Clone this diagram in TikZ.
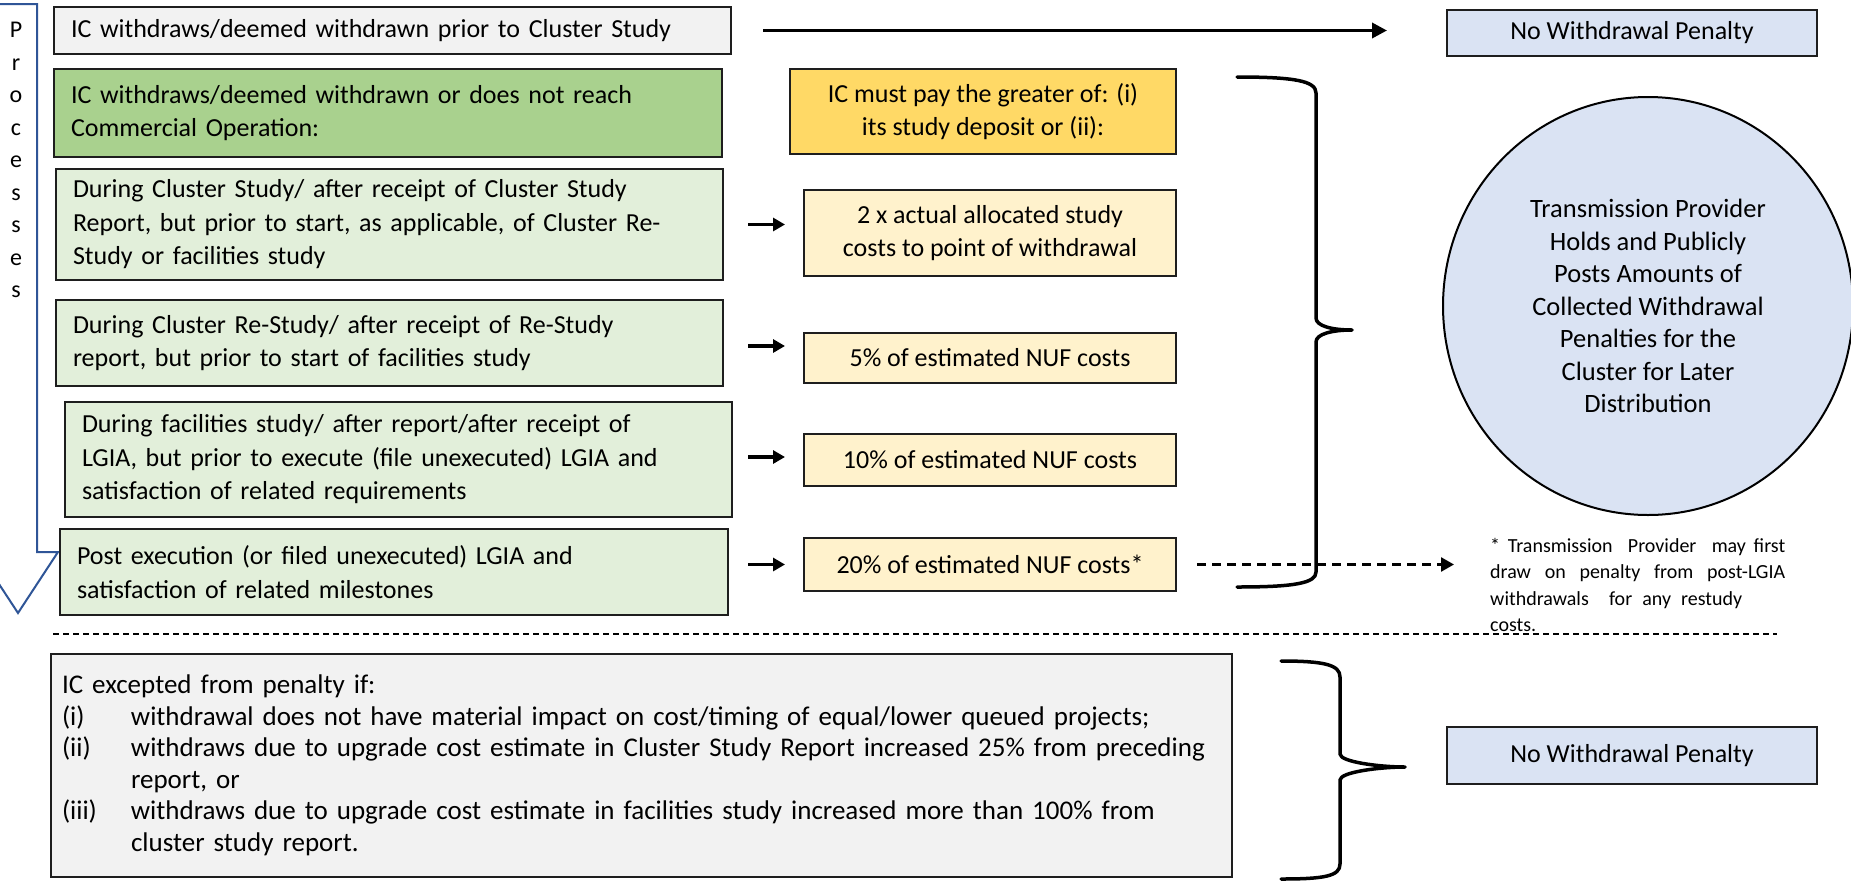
\documentclass[tikz,border=0pt]{standalone}
\usepackage{fontspec}
\setmainfont{Carlito}
\usetikzlibrary{arrows.meta,shapes.geometric}
\definecolor{gbox}{HTML}{F2F2F2}
\definecolor{dgreen}{HTML}{A9D18E}
\definecolor{lgreen}{HTML}{E2EFDA}
\definecolor{gold}{HTML}{FFD966}
\definecolor{lyellow}{HTML}{FFF2CC}
\definecolor{lblue}{HTML}{DAE3F3}
\definecolor{pblue}{HTML}{2F5597}
\definecolor{edge}{HTML}{1E1E1E}
\begin{document}
\begin{tikzpicture}[x=1pt,y=-1pt,
  lbox/.style={draw=edge, line width=2pt, anchor=north west, inner xsep=17pt, inner ysep=0pt,
    align=left, font=\fontsize{26}{33.5}\selectfont},
  cbox/.style={draw=edge, line width=2pt, anchor=north west, inner sep=0pt,
    align=center, font=\fontsize{26}{33.5}\selectfont},
  res/.style={cbox, fill=lyellow, minimum width=372pt},
  nwp/.style={cbox, fill=lblue, minimum width=370pt},
  bigarrow/.style={line width=3.5pt, -{Triangle[length=15pt,width=15pt]}},
  smallarrow/.style={line width=3.5pt, -{Triangle[length=12pt,width=13pt]}},
  dasharrow/.style={line width=2.5pt, dash pattern=on 9pt off 6pt, -{Triangle[length=13pt,width=14pt]}},
  brace/.style={line width=3.5pt, line cap=round, line join=round},
]
\useasboundingbox (0,0) rectangle (1851,881);
\clip (0,0) rectangle (1851,881);
\fill[white] (0,0) rectangle (1851,881);

% Process arrow
\draw[pblue, line width=2pt, fill=white]
  (-1,4) -- (37,4) -- (37,552) -- (58,552) -- (18,613) -- (-22,552) -- (-1,552) -- cycle;
\node[anchor=north, inner sep=0pt, align=center, font=\fontsize{24}{32.5}\selectfont] (proc) at (16,22)
  {P\\r\\o\\c\\e\\s\\s\\e\\s};

% Left boxes
\node[lbox, fill=gbox, minimum width=677pt, minimum height=47pt, text width=643pt] (b1) at (53,6)
  {IC withdraws/deemed withdrawn prior to Cluster Study};
\node[lbox, fill=dgreen, minimum width=668pt, minimum height=88pt, text width=634pt] (b2) at (53,68)
  {IC withdraws/deemed withdrawn or does not reach\\Commercial Operation:};
\node[lbox, fill=lgreen, minimum width=667pt, minimum height=111pt, text width=633pt] (b3) at (55,168)
  {During Cluster Study/ after receipt of Cluster Study\\Report, but prior to start, as applicable, of Cluster Re-\\Study or facilities study};
\node[lbox, fill=lgreen, minimum width=667pt, minimum height=86pt, text width=633pt] (b4) at (55,299)
  {During Cluster Re-Study/ after receipt of Re-Study\\report, but prior to start of facilities study};
\node[lbox, fill=lgreen, minimum width=667pt, minimum height=115pt, text width=633pt] (b5) at (64,401)
  {During facilities study/ after report/after receipt of\\LGIA, but prior to execute (file unexecuted) LGIA and\\satisfaction of related requirements};
\node[lbox, fill=lgreen, minimum width=668pt, minimum height=86pt, text width=634pt] (b6) at (59,528)
  {Post execution (or filed unexecuted) LGIA and\\satisfaction of related milestones};

% Middle boxes
\node[cbox, fill=gold, minimum width=386pt, minimum height=85pt] (pay) at (789,68)
  {IC must pay the greater of: (i)\\its study deposit or (ii):};
\node[res, minimum height=86pt] (r3) at (803,189) {2 x actual allocated study\\costs to point of withdrawal};
\node[res, minimum height=50pt] (r4) at (803,332) {5\% of estimated NUF costs};
\node[res, minimum height=52pt] (r5) at (803,433) {10\% of estimated NUF costs};
\node[res, minimum height=53pt] (r6) at (803,537) {20\% of estimated NUF costs*};

% Right side
\node[nwp, minimum height=46pt] (nwp1) at (1446,9) {No Withdrawal Penalty};
\node[nwp, minimum height=57pt] (nwp2) at (1446,726) {No Withdrawal Penalty};
\node[ellipse, draw=black, line width=2pt, fill=lblue, minimum width=410pt, minimum height=418pt,
  inner sep=0pt, align=center, font=\fontsize{26.5}{32.5}\selectfont] (circ) at (1648,306)
  {Transmission Provider\\Holds and Publicly\\Posts Amounts of\\Collected Withdrawal\\Penalties for the\\Cluster for Later\\Distribution};
\node[anchor=north west, inner sep=0pt, align=left, font=\fontsize{20}{26.5}\selectfont] (note) at (1490,538)
  {\makebox[295pt][s]{* Transmission\ \ Provider\ \ may first}\\
   \makebox[295pt][s]{draw on penalty from post-LGIA}\\
   \makebox[252pt][s]{withdrawals\ \ for any restudy}\\
   costs.};

% Bottom box
\node[lbox, fill=gbox, inner xsep=11pt, minimum width=1181pt, minimum height=223pt, text width=1159pt,
  font=\fontsize{27}{31.5}\selectfont] (bot) at (50,653)
  {IC excepted from penalty if:\\
   \makebox[69pt][l]{(i)}withdrawal does not have material impact on cost/timing of equal/lower queued projects;\\
   \makebox[69pt][l]{(ii)}withdraws due to upgrade cost estimate in Cluster Study Report increased 25\% from preceding\\
   \hspace*{69pt}report, or\\
   \makebox[69pt][l]{(iii)}withdraws due to upgrade cost estimate in facilities study increased more than 100\% from\\
   \hspace*{69pt}cluster study report.};

% Connectors
\draw[bigarrow, shorten <=31pt, shorten >=59pt] (b1.east) -- (b1.east -| nwp1.west);
\draw[smallarrow, shorten <=24pt, shorten >=18pt] (b3.east) -- (b3.east -| r3.west);
\draw[smallarrow, shorten <=24pt, shorten >=18pt] (b4.east |- 0,346) -- (r4.west |- 0,346);
\draw[smallarrow, shorten <=15pt, shorten >=18pt] (b5.east |- 0,457) -- (r5.west |- 0,457);
\draw[smallarrow, shorten <=19pt, shorten >=18pt] (b6.east |- r6.west) -- (r6.west);
\draw[dasharrow, shorten <=20pt, shorten >=36pt] (r6.east) -- (r6.east -| note.west);

% Separator
\coordinate (sepL) at (53,634);
\coordinate (sepR) at (1777,634);
\draw[line width=2pt, dash pattern=on 6pt off 4pt] (sepL) -- (sepR);

% Braces
\draw[brace] (1237,77) .. controls (1295,77) and (1316,81) .. (1316,93) -- (1316,318)
  .. controls (1316,326) and (1332,330) .. (1352,330)
  .. controls (1332,330) and (1316,334) .. (1316,342) -- (1316,572)
  .. controls (1316,583) and (1295,587) .. (1237,587);
\draw[brace] (1281,661) .. controls (1325,661) and (1340,665) .. (1340,677) -- (1340,754)
  .. controls (1340,762) and (1380,767) .. (1405,767)
  .. controls (1380,767) and (1340,772) .. (1340,780) -- (1340,864)
  .. controls (1340,876) and (1325,879) .. (1281,879);
\end{tikzpicture}
\end{document}
